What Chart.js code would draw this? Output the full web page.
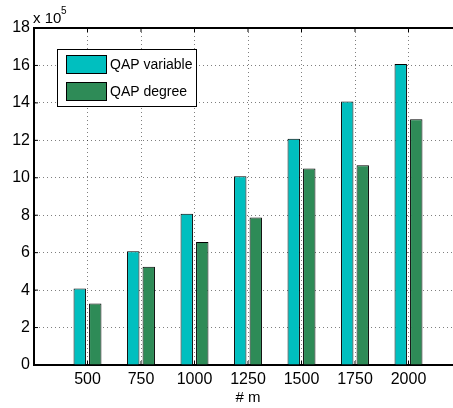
<!DOCTYPE html>
<html>
<head>
<meta charset="utf-8">
<script src="https://cdn.jsdelivr.net/npm/chart.js@4/dist/chart.umd.min.js"></script>
<style>
  body { margin: 0; overflow: hidden; background: #fff; }
  #wrap { width: 470px; height: 408px; }
</style>
</head>
<body>
<div id="wrap"><canvas id="qapChart" width="470" height="408"></canvas></div>
<script>
const categories = ["500", "750", "1000", "1250", "1500", "1750", "2000"];
const qapVariable = [4.08, 6.08, 8.08, 10.08, 12.08, 14.08, 16.08];
const qapDegree = [3.29, 5.25, 6.57, 7.88, 10.5, 10.67, 13.13];
const yMax = 18;
const yStep = 2;

const FONT = "'Liberation Sans', Arial, sans-serif";

// x positions 1..n on a linear axis, with a spare slot at each end
const toPoints = (vals) => vals.map((v, i) => ({ x: i + 1, y: v }));

// box, inner ticks, exponent note and legend, like the matlab figure
const matlabBits = {
  id: "matlabBits",
  afterDraw(chart) {
    const { ctx, chartArea: a, scales } = chart;
    ctx.save();
    ctx.strokeStyle = "#000";
    ctx.lineWidth = 2;
    ctx.beginPath();
    ctx.moveTo(a.left, a.top);
    ctx.lineTo(a.right, a.top);
    ctx.stroke();

    ctx.lineWidth = 1;
    ctx.beginPath();
    categories.forEach((c, i) => {
      const x = scales.x.getPixelForValue(i + 1);
      ctx.moveTo(x, a.bottom);
      ctx.lineTo(x, a.bottom - 4);
      ctx.moveTo(x, a.top);
      ctx.lineTo(x, a.top + 4);
    });
    for (let v = yStep; v < yMax; v += yStep) {
      const y = scales.y.getPixelForValue(v);
      ctx.moveTo(a.left, y);
      ctx.lineTo(a.left + 4, y);
    }
    ctx.stroke();

    ctx.fillStyle = "#000";
    ctx.textBaseline = "alphabetic";
    ctx.font = "15px " + FONT;
    ctx.fillText("x 10", 33, 23);
    ctx.font = "10px " + FONT;
    ctx.fillText("5", 61, 14);

    // legend
    const lx = 57, ly = 49, lw = 139, lh = 57;
    ctx.fillStyle = "#fff";
    ctx.fillRect(lx, ly, lw, lh);
    ctx.strokeRect(lx + 0.5, ly + 0.5, lw, lh);
    chart.data.datasets.forEach((ds, i) => {
      const sy = ly + 6 + i * 27;
      ctx.fillStyle = ds.backgroundColor;
      ctx.fillRect(66, sy, 40, 18);
      ctx.strokeStyle = "#000";
      ctx.strokeRect(66.5, sy + 0.5, 40, 18);
      ctx.fillStyle = "#000";
      ctx.font = "14px " + FONT;
      ctx.textBaseline = "middle";
      ctx.fillText(ds.label, 110, sy + 10);
    });
    ctx.restore();
  },
};

new Chart(document.getElementById("qapChart"), {
  type: "bar",
  data: {
    datasets: [
      {
        label: "QAP variable",
        data: toPoints(qapVariable),
        backgroundColor: "#00BFBF",
        borderColor: "#000",
        borderWidth: 1,
      },
      {
        label: "QAP degree",
        data: toPoints(qapDegree),
        backgroundColor: "#2E8B57",
        borderColor: "#000",
        borderWidth: 1,
      },
    ],
  },
  options: {
    responsive: false,
    animation: false,
    categoryPercentage: 0.58,
    barPercentage: 0.8,
    layout: { padding: { left: 0, top: 28, right: 8, bottom: 0 } },
    plugins: { legend: { display: false }, tooltip: { enabled: false } },
    scales: {
      x: {
        type: "linear",
        offset: false,
        min: 0,
        max: categories.length + 1,
        afterFit: (s) => { s.height = 43; },
        afterBuildTicks: (s) => {
          s.ticks = Array.from({ length: categories.length + 2 }, (_, i) => ({ value: i }));
        },
        ticks: {
          stepSize: 1,
          autoSkip: false,
          maxRotation: 0,
          padding: 5,
          color: "#000",
          font: { family: FONT, size: 16 },
          callback: (v) => categories[v - 1] || "",
        },
        grid: {
          offset: false,
          drawTicks: false,
          color: "rgba(0,0,0,0.5)",
          lineWidth: 1,
        },
        border: { color: "#000", width: 2, dash: [1, 3] },
        title: {
          display: true,
          text: "# m",
          color: "#000",
          font: { family: FONT, size: 15 },
          padding: { top: 0, bottom: 1 },
        },
      },
      y: {
        min: 0,
        max: yMax,
        afterFit: (s) => { s.width = 34; },
        ticks: {
          stepSize: yStep,
          padding: 4,
          color: "#000",
          font: { family: FONT, size: 16 },
        },
        grid: {
          drawTicks: false,
          color: "rgba(0,0,0,0.5)",
          lineWidth: 1,
        },
        border: { color: "#000", width: 2, dash: [1, 3] },
      },
    },
  },
  plugins: [matlabBits],
});
</script>
</body>
</html>
